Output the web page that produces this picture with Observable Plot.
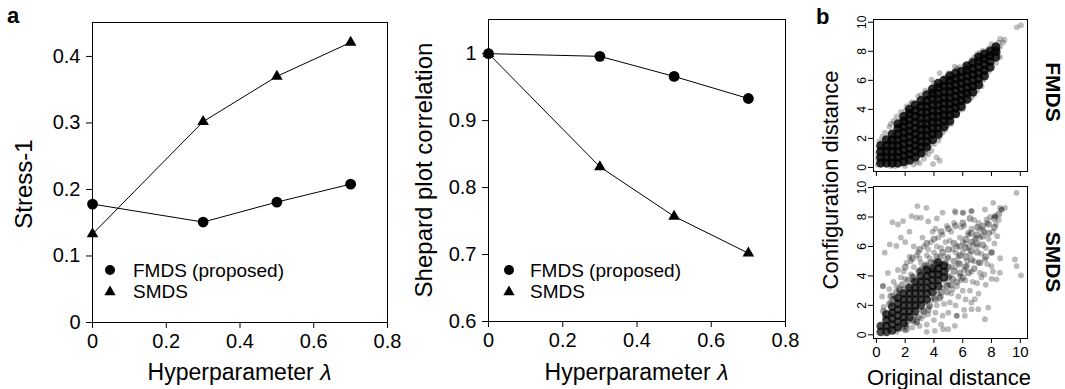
<!DOCTYPE html>
<html><head><meta charset="utf-8">
<script src="https://cdn.jsdelivr.net/npm/d3@7"></script>
<script src="https://cdn.jsdelivr.net/npm/@observablehq/plot@0.6"></script>
<style>
body{margin:0;background:#fff;}
#fig{position:relative;width:1065px;height:389px;overflow:hidden;font-family:"Liberation Sans",Arial,sans-serif;}
#fig > div{position:absolute;}
#fig > svg{position:absolute;left:0;top:0;}
</style></head><body><div id="fig"></div>
<script>
// ---- panel a data ----
const lambda = [0, 0.3, 0.5, 0.7];
const stressFMDS = [0.178, 0.151, 0.181, 0.208];
const stressSMDS = [0.133, 0.302, 0.370, 0.421];
const corrFMDS = [1.0, 0.996, 0.966, 0.933];
const corrSMDS = [1.0, 0.831, 0.757, 0.702];
const xTicksA = [0, 0.2, 0.4, 0.6, 0.8];
const yTicksStress = [0, 0.1, 0.2, 0.3, 0.4];
const yTicksCorr = [0.6, 0.7, 0.8, 0.9, 1];
const seriesNames = ["FMDS (proposed)", "SMDS"];

// ---- panel b data (original distance, configuration distance) ----
const ticksB = [0, 2, 4, 6, 8, 10];
const fmdsCore = [
[0.3,0.3],[0.3,0.7],[0.3,1.1],[0.3,1.5],
[0.7,0.3],[0.7,0.7],[0.7,1.1],[0.7,1.5],[0.7,1.9],
[1.1,0.3],[1.1,0.7],[1.1,1.1],[1.1,1.5],[1.1,1.9],[1.1,2.3],
[1.5,0.3],[1.5,0.7],[1.5,1.1],[1.5,1.5],[1.5,1.9],[1.5,2.3],[1.5,2.7],[1.5,3.0],
[1.9,0.4],[1.9,0.8],[1.9,1.2],[1.9,1.6],[1.9,2.0],[1.9,2.4],[1.9,2.8],[1.9,3.2],[1.9,3.5],
[2.3,0.5],[2.3,0.9],[2.3,1.3],[2.3,1.7],[2.3,2.1],[2.3,2.5],[2.3,2.9],[2.3,3.3],[2.3,3.7],[2.3,4.0],
[2.7,0.7],[2.7,1.1],[2.7,1.5],[2.7,1.9],[2.7,2.3],[2.7,2.7],[2.7,3.1],[2.7,3.5],[2.7,3.9],[2.7,4.3],
[3.1,1.0],[3.1,1.4],[3.1,1.8],[3.1,2.2],[3.1,2.6],[3.1,3.0],[3.1,3.4],[3.1,3.8],[3.1,4.2],[3.1,4.6],
[3.5,1.4],[3.5,1.8],[3.5,2.2],[3.5,2.6],[3.5,3.0],[3.5,3.4],[3.5,3.8],[3.5,4.2],[3.5,4.6],[3.5,5.0],
[3.9,1.9],[3.9,2.3],[3.9,2.7],[3.9,3.1],[3.9,3.5],[3.9,3.9],[3.9,4.3],[3.9,4.7],[3.9,5.1],[3.9,5.4],
[4.3,2.3],[4.3,2.7],[4.3,3.1],[4.3,3.5],[4.3,3.9],[4.3,4.3],[4.3,4.7],[4.3,5.1],[4.3,5.5],[4.3,5.8],
[4.7,2.8],[4.7,3.2],[4.7,3.6],[4.7,4.0],[4.7,4.4],[4.7,4.8],[4.7,5.2],[4.7,5.6],[4.7,6.0],
[5.1,3.2],[5.1,3.6],[5.1,4.0],[5.1,4.4],[5.1,4.8],[5.1,5.2],[5.1,5.6],[5.1,6.0],[5.1,6.3],
[5.5,3.7],[5.5,4.1],[5.5,4.5],[5.5,4.9],[5.5,5.3],[5.5,5.7],[5.5,6.1],[5.5,6.5],
[5.9,4.2],[5.9,4.6],[5.9,5.0],[5.9,5.4],[5.9,5.8],[5.9,6.2],[5.9,6.6],
[6.3,4.7],[6.3,5.1],[6.3,5.5],[6.3,5.9],[6.3,6.3],[6.3,6.7],[6.3,7.0],
[6.7,5.2],[6.7,5.6],[6.7,6.0],[6.7,6.4],[6.7,6.8],[6.7,7.2],
[7.1,5.7],[7.1,6.1],[7.1,6.5],[7.1,6.9],[7.1,7.3],[7.1,7.6],
[7.5,6.3],[7.5,6.7],[7.5,7.1],[7.5,7.5],[7.5,7.8],
[7.9,6.9],[7.9,7.3],[7.9,7.7],[7.9,8.0],
[8.3,7.6],[8.3,8.0],[8.3,8.3]
];
const fmdsSparse = [
[0.1,0.2],[0.2,1.8],[0.4,2.1],[0.6,2.4],[0.9,2.8],[1.2,3.2],[1.4,3.5],[1.7,3.8],[2.1,4.2],[2.5,4.5],
[2.9,4.9],[3.1,5.0],[3.4,5.3],[3.83,6.05],[4.4,6.5],[5.0,6.5],[5.45,6.95],[6.15,7.05],[4.0,5.8],[4.8,6.2],
[5.8,6.9],[6.6,7.4],[7.0,7.8],[7.4,8.05],[7.8,8.2],[8.2,8.3],[8.6,8.85],[8.9,8.8],[8.5,8.6],[9.75,9.65],
[10.05,9.8],[8.6,7.6],[8.3,7.2],[7.8,6.6],[7.4,6.0],[7.0,5.3],[6.6,4.8],[6.4,5.2],[6.15,4.5],[6.0,4.0],
[5.6,3.6],[5.2,3.0],[4.8,2.6],[4.4,2.1],[4.3,1.84],[4.0,1.6],[3.83,1.15],[3.6,0.9],[3.3,0.6],[3.0,0.3],
[2.6,0.2],[3.94,0.23],[4.18,0.69],[4.4,0.46],[2.0,0.1],[1.0,0.1],[0.1,0.6],[0.1,1.0],[3.6,1.4],[4.6,2.4],
[5.3,3.5],[3.2,0.9],[2.4,4.4],[2.0,3.9],[1.0,3.0],[8.0,8.5],[8.4,8.0],[7.2,7.9],[6.8,7.6],[5.6,6.8],
[8.6,8.3],[8.8,8.6],[8.45,7.9],[2.8,0.4],[3.4,1.0],[4.9,2.9],[5.7,3.9],[6.8,5.0],[7.3,5.6],[1.3,0.1]
];
const smdsCore = [
[0.3,0.2],[0.3,0.6],
[0.7,0.2],[0.7,0.6],[0.7,1.0],[0.7,1.4],
[1.1,0.3],[1.1,0.7],[1.1,1.1],[1.1,1.5],[1.1,1.9],
[1.5,0.5],[1.5,0.9],[1.5,1.3],[1.5,1.7],[1.5,2.1],[1.5,2.5],
[1.9,0.8],[1.9,1.2],[1.9,1.6],[1.9,2.0],[1.9,2.4],[1.9,2.8],
[2.3,1.2],[2.3,1.6],[2.3,2.0],[2.3,2.4],[2.3,2.8],[2.3,3.2],
[2.7,1.6],[2.7,2.0],[2.7,2.4],[2.7,2.8],[2.7,3.2],[2.7,3.6],
[3.1,2.0],[3.1,2.4],[3.1,2.8],[3.1,3.2],[3.1,3.6],[3.1,4.0],
[3.5,2.4],[3.5,2.8],[3.5,3.2],[3.5,3.6],[3.5,4.0],[3.5,4.4],
[3.9,2.9],[3.9,3.3],[3.9,3.7],[3.9,4.1],[3.9,4.5],
[4.3,3.3],[4.3,3.7],[4.3,4.1],[4.3,4.5],[4.3,4.9],
[4.7,3.9],[4.7,4.3],[4.7,4.7]
];
const smdsMid = [
[1.2,2.4],[1.4,2.9],[1.8,3.4],[2.2,3.7],[2.0,0.6],[2.5,1.0],[2.6,3.9],[2.9,1.2],[3.0,4.3],[3.3,1.6],
[3.4,4.7],[3.7,2.0],[3.8,4.9],[4.1,2.4],[4.2,5.3],[4.5,2.9],[4.6,5.6],[4.9,3.3],[5.0,3.9],[5.0,4.6],
[5.0,5.8],[5.3,3.8],[5.4,4.3],[5.4,5.0],[5.4,6.2],[5.8,4.2],[5.8,4.8],[5.8,5.4],[5.8,6.0],[6.2,4.6],
[6.2,5.3],[6.2,5.9],[6.2,6.5],[6.6,5.1],[6.6,5.7],[6.6,6.3],[6.6,6.9],[7.0,5.6],[7.0,6.2],[7.0,6.8],
[7.0,7.3],[7.4,6.1],[7.4,6.7],[7.4,7.4],[7.8,6.9],[7.8,7.5],[8.2,7.3],[8.2,7.9],[8.5,8.2],[4.8,4.9],
[4.4,4.8],[4.0,4.4],[1.0,2.6],[1.6,3.1],[2.1,0.4],[2.8,0.9],[3.2,4.5],[3.6,1.7],[4.4,2.5],[4.9,2.9],
[5.2,3.4],[5.6,3.6],[6.0,3.9],[6.4,4.2],[6.8,4.5],[7.2,4.9],[7.6,5.3],[8.0,5.6],[2.0,4.6],[2.5,5.2],
[3.0,5.8],[3.5,6.2],[4.0,6.5],[4.5,7.0],[5.0,7.2],[5.5,7.4],[6.0,7.6],[6.5,7.9],[0.5,1.6],[0.9,2.1]
];
const smdsSparse = [
[0.5,1.9],[0.4,2.6],[0.6,1.2],[0.45,3.3],
[0.9,0.3],[1.0,2.2],[1.1,2.7],[0.9,3.1],[1.2,3.6],[1.0,1.4],[0.8,4.2],
[1.4,0.2],[1.5,0.5],[1.6,2.8],[1.4,3.3],[1.7,3.9],[1.5,4.4],[1.3,2.5],[1.6,3.0],[1.8,0.4],
[2.0,0.3],[2.1,0.7],[2.2,3.3],[2.0,3.8],[1.9,4.3],[2.1,4.9],[2.3,5.3],[1.9,3.1],[2.2,0.9],[2.4,4.1],
[2.5,0.5],[2.6,0.9],[2.7,1.3],[2.5,4.0],[2.6,4.6],[2.4,5.0],[2.8,5.4],[2.6,6.0],[2.9,4.3],[2.8,0.8],[2.5,3.7],
[3.0,0.6],[3.1,1.1],[3.2,1.6],[3.0,4.4],[3.1,4.9],[2.9,5.6],[3.3,6.0],[3.2,6.6],[3.4,4.6],[3.3,1.3],[3.0,5.2],[3.5,5.4],
[3.5,0.7],[3.6,1.4],[3.7,1.9],[3.5,4.8],[3.7,5.2],[3.6,5.8],[3.8,6.3],[3.9,7.0],[3.4,2.2],[3.8,2.4],[3.6,4.3],
[4.0,1.0],[4.1,1.5],[4.2,2.0],[4.0,2.5],[4.1,5.0],[4.0,5.6],[4.2,6.0],[4.3,6.6],[4.1,7.2],[4.4,5.3],[4.3,2.8],[4.0,4.9],
[4.5,0.7],[4.6,1.3],[4.7,2.1],[4.5,2.6],[4.6,3.2],[4.7,5.3],[4.5,5.9],[4.8,6.3],[4.6,6.8],[4.9,7.4],[4.8,3.6],[4.4,4.2],
[5.0,1.5],[5.1,2.2],[5.2,2.8],[5.0,3.4],[5.1,4.0],[5.2,4.6],[5.0,5.2],[5.3,5.8],[5.1,6.4],[5.2,7.0],[5.4,7.6],[5.5,8.3],[5.3,3.1],[4.9,4.4],
[5.6,1.3],[5.5,2.0],[5.7,2.6],[5.6,3.3],[5.8,4.0],[5.5,4.6],[5.7,5.3],[5.6,6.0],[5.8,6.6],[5.9,7.3],[5.7,4.9],[5.9,3.7],
[6.1,1.7],[6.2,2.4],[6.0,3.0],[6.2,3.7],[6.1,4.4],[6.3,5.0],[6.0,5.6],[6.2,6.2],[6.4,6.8],[6.1,7.4],[6.0,8.3],[6.3,4.7],[6.4,5.9],
[6.6,2.2],[6.5,3.0],[6.7,3.6],[6.6,4.3],[6.8,5.0],[6.5,5.5],[6.7,6.1],[6.9,6.6],[6.6,7.2],[6.8,7.8],[6.6,8.4],[6.84,2.42],[6.61,1.74],
[7.1,2.8],[7.0,3.5],[7.2,4.2],[7.1,4.9],[7.3,5.5],[7.0,6.0],[7.2,6.6],[7.4,7.1],[7.1,7.6],[7.08,1.74],[7.3,3.9],
[7.6,3.4],[7.5,4.1],[7.7,4.8],[7.54,5.12],[7.6,5.9],[7.8,6.5],[7.5,7.0],[7.7,7.6],[7.9,8.0],[7.54,8.51],[7.54,1.06],[7.77,1.85],
[8.0,3.8],[8.1,4.3],[8.0,4.67],[8.0,5.58],[8.2,6.2],[8.1,7.0],[8.3,7.5],[8.24,8.06],[8.12,8.96],[8.35,3.77],[8.4,6.7],
[8.58,4.22],[8.6,5.2],[8.5,7.8],[8.7,8.5],[8.58,8.62],[8.93,8.62],
[9.74,9.64],[9.63,5.12],[9.74,4.67],[10.05,4.04],
[2.85,8.74],[3.48,8.62],[2.44,8.06],[2.78,7.95],[3.09,7.95],[1.11,7.65],[1.5,7.49],[1.86,7.72],[0.58,5.58],[0.93,6.14],
[1.39,6.03],[0.46,3.32],[5.45,8.4],[6.03,8.28],[6.61,8.4],[2.0,6.3],[1.7,6.6],[2.3,7.0],[3.6,7.7],[4.2,7.9],[4.6,8.3],
[6.15,1.29],[5.57,1.29],[5.45,0.61],[4.99,0.38],[4.64,0.38],[4.06,0.27],[3.5,0.2],
[6.38,6.93],[6.84,6.48],[7.66,7.83],[8.24,8.06],[8.7,8.5],[7.2,7.2],[6.0,6.3],[5.5,5.6],[5.0,5.3]
];

// ---- helpers ----
const FONT = "'Liberation Sans', Arial, sans-serif";
const fmtA = d => d === 0 ? "0" : d === 1 ? "1" : d.toFixed(1);
const fig = document.getElementById("fig");
function place(node, left, top) {
  const d = document.createElement("div");
  d.style.left = left + "px"; d.style.top = top + "px";
  d.append(node); fig.append(d);
}
const rows = (ys) => lambda.map((x, i) => ({x, y: ys[i]}));

function panelA(fmds, smds, yDomain, yTicks, m) {
  return Plot.plot({
    width: 400, height: 389,
    marginLeft: m.l, marginRight: m.r, marginTop: m.t, marginBottom: m.b,
    style: {fontFamily: FONT, fontSize: "20px", color: "black", background: "none", overflow: "visible"},
    x: {domain: [0, 0.8]},
    y: {domain: yDomain},
    marks: [
      Plot.frame({stroke: "black", strokeWidth: 1}),
      Plot.axisX({ticks: xTicksA, tickFormat: fmtA, tickSize: 6, tickPadding: 5, label: null, fontSize: 20}),
      Plot.axisY({ticks: yTicks, tickFormat: fmtA, tickSize: 6, tickPadding: 6, label: null, fontSize: 20}),
      Plot.line(rows(fmds), {x: "x", y: "y", stroke: "black", strokeWidth: 1}),
      Plot.line(rows(smds), {x: "x", y: "y", stroke: "black", strokeWidth: 1}),
      Plot.dot(rows(fmds), {x: "x", y: "y", r: 5.4, fill: "black", symbol: "circle"}),
      Plot.dot(rows(smds), {x: "x", y: "y", r: 4.3, fill: "black", symbol: "triangle"})
    ]
  });
}
place(panelA(stressFMDS, stressSMDS, [0, 0.451], yTicksStress, {l: 92, r: 13, t: 22, b: 67}), 0, 0);
place(panelA(corrFMDS, corrSMDS, [0.6, 1.051], yTicksCorr, {l: 88, r: 15, t: 19, b: 68}), 400, 0);

function panelB(layers, yDomain, opts, showX) {
  return Plot.plot({
    width: 245, height: opts.h,
    marginLeft: 53, marginRight: 38, marginTop: opts.mt, marginBottom: opts.mb,
    style: {fontFamily: FONT, fontSize: "12px", color: "black", background: "none", overflow: "visible"},
    x: {domain: [-0.2, 10.5]},
    y: {domain: yDomain},
    marks: [
      ...layers.map(([pts, r, op]) =>
        Plot.dot(pts, {x: d => d[0], y: d => d[1], r, fill: "black", fillOpacity: op})),
      Plot.frame({stroke: "black", strokeWidth: 1}),
      Plot.axisY({ticks: ticksB, tickSize: 5, tickPadding: 3, tickRotate: -90, label: null, fontSize: 12}),
      Plot.axisX({ticks: ticksB, tickSize: 5, tickPadding: 3, label: null, fontSize: 15,
        tickFormat: showX ? (d => String(d)) : (() => "")})
    ]
  });
}
place(panelB([[fmdsSparse, 2.9, 0.25], [fmdsCore, 4.6, 0.82]], [-0.28, 10.19],
  {h: 185, mt: 19, mb: 14}, false), 820, 0);
place(panelB([[smdsSparse, 2.9, 0.27], [smdsMid, 3.4, 0.35], [smdsCore, 4.3, 0.72]], [-0.25, 10.07],
  {h: 209, mt: 6, mb: 51}, true), 820, 180);

// ---- overlay text: panel letters, axis titles, legends ----
const svg = d3.select(fig).append("svg").attr("width", 1065).attr("height", 389)
  .style("pointer-events", "none").attr("font-family", FONT);
function txt(x, y, s, size, o = {}) {
  const t = svg.append("text").attr("x", x).attr("y", y).attr("font-size", size)
    .attr("text-anchor", o.anchor || "start").attr("fill", "black");
  if (o.bold) t.attr("font-weight", "bold");
  if (o.rot) t.attr("transform", `rotate(${o.rot},${x},${y})`).attr("dy", "0.35em");
  t.text(s);
  return t;
}
txt(7, 23, "a", 22, {bold: true});
txt(816, 24, "b", 22, {bold: true});
txt(24, 184, "Stress-1", 24, {anchor: "middle", rot: -90});
txt(424, 170, "Shepard plot correlation", 24, {anchor: "middle", rot: -90});
for (const cx of [239.5, 636.5]) {
  const t = txt(cx, 380, "Hyperparameter ", 23, {anchor: "middle"});
  t.append("tspan").attr("font-style", "italic").text("λ");
}
for (const [lx, tx] of [[110, 133], [509, 530]]) {
  svg.append("circle").attr("cx", lx).attr("cy", 270).attr("r", 5).attr("fill", "black");
  svg.append("path").attr("transform", `translate(${lx},${292})`)
    .attr("d", d3.symbol(d3.symbolTriangle, 55)()).attr("fill", "black");
  txt(tx, 276.5, seriesNames[0], 19);
  txt(tx, 297.5, seriesNames[1], 19);
}
txt(830, 180, "Configuration distance", 22, {anchor: "middle", rot: -90});
txt(949, 385, "Original distance", 22, {anchor: "middle"});
txt(1053, 92, "FMDS", 21, {anchor: "middle", rot: 90, bold: true});
txt(1053, 262, "SMDS", 21, {anchor: "middle", rot: 90, bold: true});
</script></body></html>
